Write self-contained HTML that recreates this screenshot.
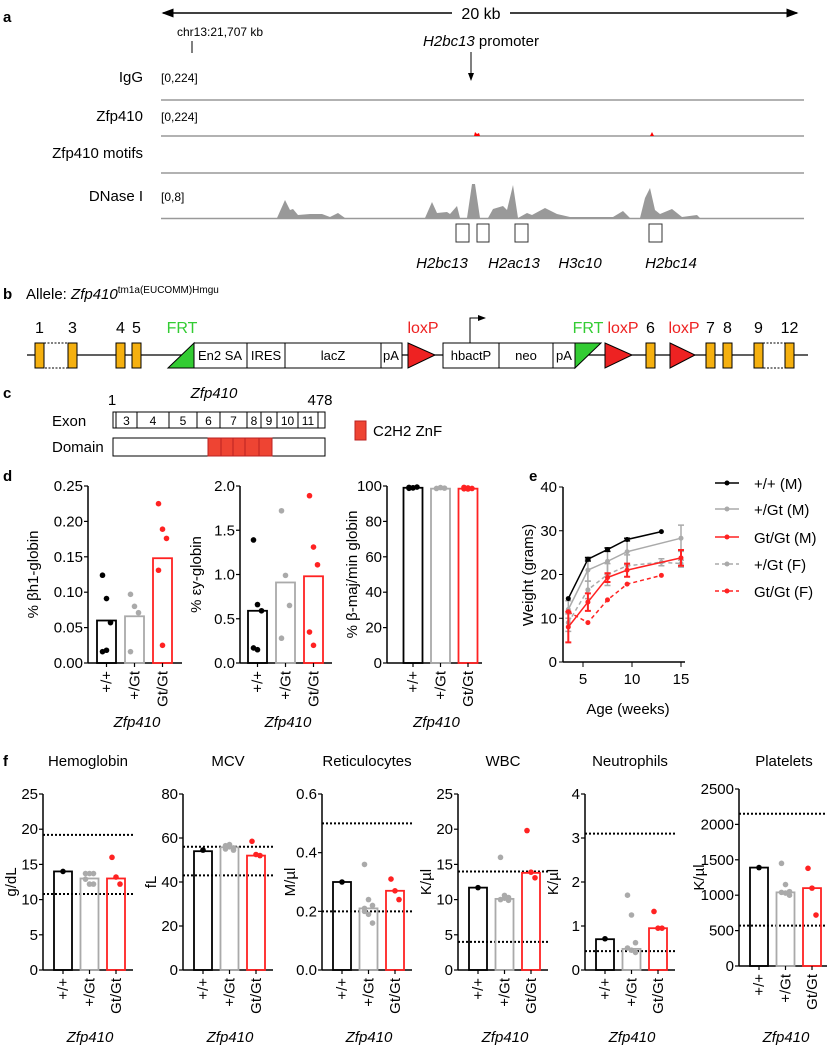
<!DOCTYPE html>
<html><head><meta charset="utf-8"><style>
body{margin:0;background:#fff}
svg{display:block;font-family:"Liberation Sans",Arial,sans-serif}
</style></head><body>
<svg id="fig" width="827" height="1050" viewBox="0 0 827 1050" xmlns="http://www.w3.org/2000/svg">
<defs>
<marker id="ah" markerWidth="8" markerHeight="8" refX="7" refY="4" orient="auto"><path d="M0,1 L8,4 L0,7 Z" fill="#000"/></marker>
</defs>
<!-- Panel a -->
<g font-size="13">
<text x="3" y="22" font-weight="bold" font-size="15">a</text>
<line x1="452" y1="13" x2="163" y2="13" stroke="#000" stroke-width="1.5" marker-end="url(#ah)"/>
<line x1="510" y1="13" x2="797" y2="13" stroke="#000" stroke-width="1.5" marker-end="url(#ah)"/>
<text x="481" y="19" text-anchor="middle" font-size="16">20 kb</text>
<text x="177" y="36" font-size="12">chr13:21,707 kb</text>
<line x1="192" y1="41" x2="192" y2="53" stroke="#000"/>
<text x="481" y="46" text-anchor="middle" font-size="15"><tspan font-style="italic">H2bc13</tspan> promoter</text>
<line x1="471" y1="52" x2="471" y2="80" stroke="#000" marker-end="url(#ah)"/>
<text x="143" y="82" text-anchor="end" font-size="15">IgG</text>
<text x="161" y="82" font-size="12">[0,224]</text>
<line x1="161" y1="100" x2="804" y2="100" stroke="#999" stroke-width="1.5"/>
<text x="143" y="121" text-anchor="end" font-size="15">Zfp410</text>
<text x="161" y="121" font-size="12">[0,224]</text>
<line x1="161" y1="136" x2="804" y2="136" stroke="#999" stroke-width="1.5"/>
<path d="M474,136 L475,132 L477,134 L479,133 L480,136Z M650,136 L652,132 L654,136Z" fill="red"/>
<text x="143" y="158" text-anchor="end" font-size="15">Zfp410 motifs</text>
<line x1="161" y1="173" x2="804" y2="173" stroke="#999" stroke-width="1.5"/>
<text x="143" y="201" text-anchor="end" font-size="15">DNase I</text>
<text x="161" y="201" font-size="12">[0,8]</text>
<path id="dnase" fill="#999"/>
<line x1="161" y1="218.5" x2="804" y2="218.5" stroke="#999" stroke-width="1.5"/>
<g fill="#fff" stroke="#333" stroke-width="1">
<rect x="456" y="224" width="13" height="18"/>
<rect x="477" y="224" width="12" height="18"/>
<rect x="515" y="224" width="13" height="18"/>
<rect x="649" y="224" width="13" height="18"/>
</g>
<g font-style="italic" font-size="15" text-anchor="middle">
<text x="442" y="268">H2bc13</text>
<text x="514" y="268">H2ac13</text>
<text x="580" y="268">H3c10</text>
<text x="671" y="268">H2bc14</text>
</g>
</g>
<!-- Panel b -->
<g>
<text x="3" y="299" font-weight="bold" font-size="15">b</text>
<text x="26" y="299" font-size="15">Allele: <tspan font-style="italic">Zfp410</tspan><tspan font-size="10" dy="-6">tm1a(EUCOMM)Hmgu</tspan></text>
<line x1="27" y1="355" x2="808" y2="355" stroke="#000" stroke-width="1.2"/>
<rect x="44" y="343" width="24" height="25" fill="#fff" stroke="#000" stroke-dasharray="2,1.5"/>
<rect x="763" y="343" width="22" height="25" fill="#fff" stroke="#000" stroke-dasharray="2,1.5"/>
<g id="exons"></g>
<polygon points="168,368 194,343 194,368" fill="#3c3" stroke="#000"/>
<text x="182" y="333" text-anchor="middle" fill="#3c3" font-size="16">FRT</text>
<rect x="194" y="343" width="208" height="25" fill="#fff" stroke="#000"/>
<line x1="247" y1="343" x2="247" y2="368" stroke="#000"/><line x1="285" y1="343" x2="285" y2="368" stroke="#000"/><line x1="381" y1="343" x2="381" y2="368" stroke="#000"/>
<polygon points="408,343 435,355 408,368" fill="#e22" stroke="#000"/>
<text x="423" y="333" text-anchor="middle" fill="#e22" font-size="16">loxP</text>
<rect x="443" y="343" width="132" height="25" fill="#fff" stroke="#000"/>
<line x1="499" y1="343" x2="499" y2="368" stroke="#000"/><line x1="553" y1="343" x2="553" y2="368" stroke="#000"/>
<path d="M470,343 V318 H485" fill="none" stroke="#000" marker-end="url(#ah)"/>
<g font-size="13" text-anchor="middle">
<text x="220" y="360">En2 SA</text>
<text x="266" y="360">IRES</text>
<text x="333" y="360">lacZ</text>
<text x="391" y="360">pA</text>
<text x="471" y="360">hbactP</text>
<text x="526" y="360">neo</text>
<text x="564" y="360">pA</text>
</g>
<polygon points="575,368 601,343 575,343" fill="#3c3" stroke="#000"/>
<text x="588" y="333" text-anchor="middle" fill="#3c3" font-size="16">FRT</text>
<polygon points="605,343 632,355 605,368" fill="#e22" stroke="#000"/>
<text x="623" y="333" text-anchor="middle" fill="#e22" font-size="16">loxP</text>
<polygon points="670,343 695,355 670,368" fill="#e22" stroke="#000"/>
<text x="684" y="333" text-anchor="middle" fill="#e22" font-size="16">loxP</text>
</g>
<!-- Panel c -->
<g font-size="15">
<text x="3" y="398" font-weight="bold">c</text>
<text x="112" y="405" text-anchor="middle">1</text>
<text x="214" y="398" text-anchor="middle" font-style="italic">Zfp410</text>
<text x="320" y="405" text-anchor="middle">478</text>
<text x="52" y="426">Exon</text>
<text x="52" y="452">Domain</text>
<g id="exonrow"></g>
<rect x="113" y="438" width="212" height="18" fill="#fff" stroke="#000"/>
<g id="znf"></g>
<rect x="355" y="421" width="11" height="19" fill="#e43" stroke="#b22"/>
<text x="373" y="436">C2H2 ZnF</text>
</g>
<text x="3" y="481" font-weight="bold" font-size="15">d</text>
<text x="529" y="481" font-weight="bold" font-size="15">e</text>
<text x="3" y="766" font-weight="bold" font-size="15">f</text>
<g id="charts"></g>
</svg>
<script>
const NS="http://www.w3.org/2000/svg";
const fig=document.getElementById('fig');
function mk(tag,attrs,parent,text){const e=document.createElementNS(NS,tag);for(const k in attrs)e.setAttribute(k,attrs[k]);if(text!==undefined)e.textContent=text;(parent||fig).appendChild(e);return e;}

// DNase track shape (x position, height)
const dnaseX=[277,285,290,293,298,310,322,330,338,345,425,432,437,447,450,457,460,467,472,475,480,488,493,503,507,513,518,527,532,545,557,570,613,623,630,640,645,650,655,660,672,682,697,700];
const dnaseH=[0,18,8,9,3,4,4,1,5,0,0,16,5,6,4,12,0,0,34,34,0,0,9,12,8,33,0,5,3,10,4,1,1,7,0,0,20,30,8,4,9,1,3,0];
let d='M'+dnaseX[0]+',218';dnaseX.forEach((x,i)=>{d+=' L'+x+','+(218-dnaseH[i]);});d+=' Z';
document.getElementById('dnase').setAttribute('d',d);

// exons
const exonNames=['1','3','4','5','6','7','8','9','12'];
const exonX=[35,68,116,132,646,706,723,754,785];
const eg=document.getElementById('exons');
exonX.forEach((x,i)=>{
 const r=mk('rect',{x:x,y:343,width:9,height:25,fill:'#f5b00f',stroke:'#000'},eg);
 
 
 const t=mk('text',{x:x+4.5,y:333,'text-anchor':'middle','font-size':16},eg,exonNames[i]);
 
 
});
// exon row in c
const exRowB=[113,116,137,169,197,220,247,261,277,298,318,325];
const exRowL=['','3','4','5','6','7','8','9','10','11',''];
const er=document.getElementById('exonrow');
mk('rect',{x:113,y:412,width:212,height:16,fill:'#fff',stroke:'#000'},er);
for(let i=1;i<exRowB.length-1;i++)mk('line',{x1:exRowB[i],y1:412,x2:exRowB[i],y2:428,stroke:'#000'},er);
exRowL.forEach((l,i)=>{if(l){const t=mk('text',{x:(exRowB[i]+exRowB[i+1])/2,y:425,'text-anchor':'middle','font-size':12},er,l);
 }});
const zb=[208,221,233,245,259,272];const zg=document.getElementById('znf');
for(let i=0;i<5;i++){const r=mk('rect',{x:zb[i],y:438,width:zb[i+1]-zb[i],height:18,fill:'#e43',stroke:'#b22'},zg);
 }

const charts=document.getElementById('charts');
const COLS=['#000','#aaa','#f22'];
const GROUPS=['+/+','+/Gt','Gt/Gt'];

// ---- Panel d data ----
const d1Bars=[0.06,0.066,0.148];
const d1Pts=[[0.124,0.091,0.057,0.016,0.018],[0.097,0.08,0.071,0.016],[0.225,0.189,0.176,0.131,0.025]];
const d1Ticks=['0.00','0.05','0.10','0.15','0.20','0.25'];
const d2Bars=[0.59,0.91,0.98];
const d2Pts=[[1.39,0.66,0.59,0.17,0.15],[1.72,0.99,0.65,0.28],[1.89,1.31,1.11,0.35,0.2]];
const d2Ticks=['0.0','0.5','1.0','1.5','2.0'];
const d3Bars=[99,98.5,98.5];
const d3Pts=[[99.2,98.9,99.4,98.7,99],[98.6,99.1,98.8],[98.4,98.9,98.6,99.2,98.3]];
const d3Ticks=['0','20','40','60','80','100'];

// ---- Panel f data ----
const fTitles=['Hemoglobin','MCV','Reticulocytes','WBC','Neutrophils','Platelets'];
const fUnits=['g/dL','fL','M/µl','K/µl','K/µl','K/µl'];
const fTicks=[['0','5','10','15','20','25'],['0','20','40','60','80'],['0.0','0.2','0.4','0.6'],['0','5','10','15','20','25'],['0','1','2','3','4'],['0','500','1000','1500','2000','2500']];
const fRef=[[19.2,10.8],[56,43],[0.5,0.2],[14,4],[3.1,0.43],[2150,570]];
const fBars=[[14,13,13],[54,55.8,52],[0.3,0.21,0.27],[11.7,10.1,13.8],[0.7,0.48,0.95],[1390,1040,1100]];
const fPts=[
 [[14],[13.7,13.7,13.7,12.9,12.2,12.2],[16,13.2,12.2]],
 [[54.5],[56.5,56,55.5,55,57,54.5],[58.5,52.5,52]],
 [[0.3],[0.36,0.24,0.22,0.21,0.19,0.16,0.2],[0.31,0.27,0.24]],
 [[11.7],[16,10.6,10.3,10,10.2,9.9],[19.8,13.9,13.1]],
 [[0.71],[1.7,1.25,0.62,0.5,0.45,0.4],[1.33,0.95,0.95]],
 [[1390],[1450,1150,1050,1040,1030,1000],[1380,1100,720]]];

function barChart(o){
 const g=mk('g',{},charts);
 
 
 const max=parseFloat(o.ticks[o.ticks.length-1]);
 const y=v=>o.y0-(v/max)*(o.y0-o.y1);
 mk('line',{x1:o.ax,y1:o.y1,x2:o.ax,y2:o.y0,stroke:'#000','stroke-width':1.5},g);
 mk('line',{x1:o.ax,y1:o.y0,x2:o.ax+o.w,y2:o.y0,stroke:'#000','stroke-width':1.5},g);
 o.ticks.forEach(t=>{const v=parseFloat(t);const yy=y(v);
  mk('line',{x1:o.ax-4,y1:yy,x2:o.ax,y2:yy,stroke:'#000','stroke-width':1.2},g);
  const tx=mk('text',{x:o.ax-5,y:yy+5,'text-anchor':'end','font-size':o.fs||15},g,t);
  
  
 });
 const yt=mk('text',{transform:`translate(${o.tx},${(o.y0+o.y1)/2}) rotate(-90)`,'text-anchor':'middle','font-size':o.fs||15},g,o.ytitle);
 
 
 if(o.refs)o.refs.forEach(r=>{const l=mk('line',{x1:o.ax,y1:y(r),x2:o.ax+o.w,y2:y(r),stroke:'#000','stroke-width':2,'stroke-dasharray':'2,2'},g);
  });
 o.bars.forEach((b,i)=>{const cx=o.ax+o.c0+i*o.sp;
  const r=mk('rect',{x:cx-o.bw/2,y:y(b),width:o.bw,height:o.y0-y(b),fill:'none',stroke:COLS[i],'stroke-width':1.8},g);
  
  
  mk('line',{x1:cx,y1:o.y0,x2:cx,y2:o.y0+4,stroke:'#000','stroke-width':1.2},g);
  const n=o.pts[i].length;
  o.pts[i].forEach((p,j)=>{const off=n>1?(j%3-1)*4:0;
   const c=mk('circle',{cx:cx+off,cy:y(p),r:2.8,fill:COLS[i]},g);
   
   });
  const lt=mk('text',{transform:`translate(${cx+5},${o.y0+8}) rotate(-90)`,'text-anchor':'end','font-size':o.fs||15},g,GROUPS[i]);
  
  
 });
 const xt=mk('text',{x:o.ax+o.w/2+2,y:o.xty,'text-anchor':'middle','font-style':'italic','font-size':o.fs||15},g,'Zfp410');
 
 
 if(o.title){const tt=mk('text',{x:o.ax+o.w/2,y:766,'text-anchor':'middle','font-size':15},g,o.title);
  }
}
barChart({name:'chart-bh1-globin',ax:88,y0:663,y1:486,w:94,c0:18.5,sp:28,bw:19,ticks:d1Ticks,bars:d1Bars,pts:d1Pts,ytitle:'% βh1-globin',tx:38,xty:727});
barChart({name:'chart-ey-globin',ax:240,y0:663,y1:486,w:92,c0:17.5,sp:28,bw:19,ticks:d2Ticks,bars:d2Bars,pts:d2Pts,ytitle:'% εy-globin',tx:201,xty:727});
barChart({name:'chart-bmaj-globin',ax:387,y0:663,y1:486,w:95,c0:26,sp:27.5,bw:19,ticks:d3Ticks,bars:d3Bars,pts:d3Pts,ytitle:'% β-maj/min globin',tx:357,xty:727});
const fAx=[43,183,322,458,585,739];
fAx.forEach((ax,k)=>{
 barChart({name:'chart-'+fTitles[k].toLowerCase(),ax:ax,y0:k==5?966:970,y1:k==5?789:794,w:90,c0:20,sp:26.5,bw:18,ticks:fTicks[k],bars:fBars[k],pts:fPts[k],refs:fRef[k],ytitle:fUnits[k],tx:ax-27-(k==5?8:0),xty:1042,title:fTitles[k]});
});

// ---- Panel e data ----
const eWeeks=[[3.5,5.5,7.5,9.5,13],[3.5,5.5,7.5,9.5,15],[3.5,5.5,7.5,9.5,15],[3.5,5.5,7.5,9.5,13,15],[3.5,5.5,7.5,9.5,13]];
const eWeight=[[14.5,23.5,25.7,28,29.8],[12,21,23,25.2,28.3],[8,13.7,19.3,21,23.8],[9,16.5,20,22,22.8,22.5],[11.5,9,14.2,17.8,19.8]];
const eErr=[[0,0.4,0.4,0.3,0],[2,2.5,3,3,3],[3.5,2,1,1.5,1.8],[2,2,2.5,2.5,0.8,0.8],[0,0,0,0,0]];
const eNames=['+/+ (M)','+/Gt (M)','Gt/Gt (M)','+/Gt (F)','Gt/Gt (F)'];
const eCols=['#000','#aaa','#f22','#aaa','#f22'];
const eDash=['','','','4,3','4,3'];
const eTicksY=[0,10,20,30,40];const eTicksX=[5,10,15];
const ex=w=>583+(w-5)*9.8, ey=v=>662-v*(175/40);
const eg2=mk('g',{},charts);


mk('line',{x1:563,y1:487,x2:563,y2:662,stroke:'#000','stroke-width':1.5},eg2);
mk('line',{x1:563,y1:662,x2:685,y2:662,stroke:'#000','stroke-width':1.5},eg2);
eTicksY.forEach(t=>{mk('line',{x1:559,y1:ey(t),x2:563,y2:ey(t),stroke:'#000'},eg2);
 const tx=mk('text',{x:557,y:ey(t)+5,'text-anchor':'end','font-size':15},eg2,String(t));
 });
eTicksX.forEach(t=>{mk('line',{x1:ex(t),y1:662,x2:ex(t),y2:667,stroke:'#000'},eg2);
 const tx=mk('text',{x:ex(t),y:684,'text-anchor':'middle','font-size':15},eg2,String(t));
 });
const ea=mk('text',{x:628,y:714,'text-anchor':'middle','font-size':15},eg2,'Age (weeks)');

const ew=mk('text',{transform:'translate(533,575) rotate(-90)','text-anchor':'middle','font-size':15},eg2,'Weight (grams)');

[1,3,2,4,0].forEach(s=>{
 const pts=eWeeks[s].map((w,i)=>ex(w)+','+ey(eWeight[s][i])).join(' ');
 const pl=mk('polyline',{points:pts,fill:'none',stroke:eCols[s],'stroke-width':1.5,'stroke-dasharray':eDash[s]},eg2);
 
 
 eWeeks[s].forEach((w,i)=>{const x=ex(w),v=eWeight[s][i],e=eErr[s][i];
  if(e>0){mk('path',{d:`M${x},${ey(v-e)}V${ey(v+e)}M${x-3},${ey(v-e)}H${x+3}M${x-3},${ey(v+e)}H${x+3}`,stroke:eCols[s],'stroke-width':s==2?2:1.5,fill:'none'},eg2);}
  const c=mk('circle',{cx:x,cy:ey(v),r:2.5,fill:eCols[s]},eg2);
  
  });
 const ly=[483,509,537,564,591][s];
 const lg=mk('g',{},eg2);
 
 
 mk('line',{x1:715,y1:ly,x2:739,y2:ly,stroke:eCols[s],'stroke-width':1.5,'stroke-dasharray':eDash[s]},lg);
 mk('circle',{cx:727,cy:ly,r:2.5,fill:eCols[s]},lg);
 mk('text',{x:754,y:ly+6,'font-size':15},lg,eNames[s]);
});
</script>
</body></html>
